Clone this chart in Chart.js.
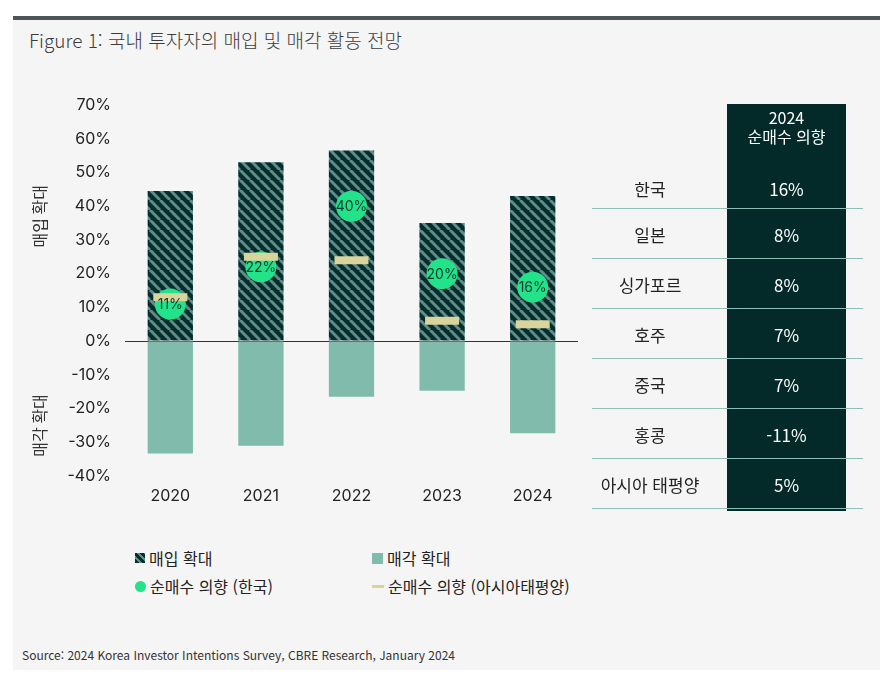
<!DOCTYPE html>
<html lang="ko">
<head>
<meta charset="utf-8">
<script src="https://cdn.jsdelivr.net/npm/chart.js@4"></script>
<style>
  body { margin: 0; background: #fff; font-family: "Noto Sans CJK KR", "Noto Sans", sans-serif; }
  .panel { position: absolute; left: 13px; top: 20px; width: 867px; height: 650px; background: #f5f5f5; }
  .topbar { position: absolute; left: 13px; top: 16px; width: 867px; height: 4px; background: #4a5657; }
  .title { position: absolute; left: 29px; top: 26px; font-size: 19px; color: #3c3c3c; font-weight: 300; }
  .chart-box { position: absolute; left: 20px; top: 80px; }
  .legend { position: absolute; left: 135px; top: 546px; font-size: 16px; color: #222; }
  .legend .item { position: absolute; white-space: nowrap; display: flex; align-items: center; height: 24px; }
  .legend .sw { display: inline-block; margin-right: 4px; }
  .table-col { position: absolute; left: 727px; top: 104px; width: 119px; height: 407px; background: #032a29; }
  .tbl { position: absolute; left: 592px; top: 104px; width: 271px; }
  .row { position: relative; border-bottom: 1px solid #8dbfb4; }
  .row .lab { position: absolute; left: 0; width: 116px; text-align: center; color: #222; font-size: 17px; }
  .row .val { position: absolute; left: 135px; width: 119px; text-align: center; color: #fff; font-size: 17px; }
  .head { height: 64px; position: relative; }
  .head .val { position: absolute; left: 135px; width: 119px; text-align: center; color: #fff; font-size: 16px; line-height: 19px; top: 4px; }
  .source { position: absolute; left: 22px; top: 646px; font-size: 12px; color: #333; }
</style>
</head>
<body>
<div class="topbar"></div>
<div class="panel"></div>
<div class="title">Figure 1: 국내 투자자의 매입 및 매각 활동 전망</div>
<div class="chart-box"><canvas id="myChart" width="583" height="430"></canvas></div>
<div class="legend" id="legend"></div>
<div class="table-col"></div>
<div class="tbl" id="tbl"></div>
<div class="source">Source: 2024 Korea Investor Intentions Survey, CBRE Research, January 2024</div>

<script>
// 데이터
const years = ['2020', '2021', '2022', '2023', '2024'];
const buyMore = [44.5, 53, 56.5, 35, 43];
const sellMore = [-33.3, -31, -16.5, -14.7, -27.3];
const netKorea = [11, 22, 40, 20, 16];
const netApac = [13, 25, 24, 6, 5];

const markets = ['한국', '일본', '싱가포르', '호주', '중국', '홍콩', '아시아 태평양'];
const net2024 = [16, 8, 8, 7, 7, -11, 5];

const yTicks = [-40, -30, -20, -10, 0, 10, 20, 30, 40, 50, 60, 70];

const colors = {
  hatchDark: '#052d2c',
  hatchLight: '#5f8d89',
  sell: '#80bbab',
  korea: '#22e28a',
  apac: '#d9d49c'
};

// 사선 패턴
function makeHatch(size) {
  const c = document.createElement('canvas');
  c.width = size; c.height = size;
  const g = c.getContext('2d');
  g.fillStyle = colors.hatchDark;
  g.fillRect(0, 0, size, size);
  g.strokeStyle = colors.hatchLight;
  g.lineWidth = 3;
  for (let k = -1; k <= 1; k++) {
    g.beginPath();
    g.moveTo(k * size, 0);
    g.lineTo(k * size + size, size);
    g.stroke();
  }
  return g.createPattern(c, 'repeat');
}
const hatch = makeHatch(10);

// 레전드
const legendItems = [
  { label: '매입 확대', x: 0, y: 0, sw: 'hatch' },
  { label: '매각 확대', x: 237, y: 0, sw: 'sell' },
  { label: '순매수 의향 (한국)', x: 0, y: 28, sw: 'dot' },
  { label: '순매수 의향 (아시아태평양)', x: 237, y: 28, sw: 'dash' }
];
const legendEl = document.getElementById('legend');
legendItems.forEach(it => {
  const div = document.createElement('div');
  div.className = 'item';
  div.style.left = it.x + 'px';
  div.style.top = it.y + 'px';
  let sw = '';
  if (it.sw === 'hatch') sw = '<span class="sw" style="width:10px;height:10px;background:repeating-linear-gradient(45deg,#052d2c 0 3px,#5f8d89 3px 5px)"></span>';
  if (it.sw === 'sell') sw = '<span class="sw" style="width:11px;height:11px;background:' + colors.sell + '"></span>';
  if (it.sw === 'dot') sw = '<span class="sw" style="width:11px;height:11px;border-radius:50%;background:' + colors.korea + '"></span>';
  if (it.sw === 'dash') sw = '<span class="sw" style="width:12px;height:3px;background:' + colors.apac + '"></span>';
  div.innerHTML = sw + '<span>' + it.label + '</span>';
  legendEl.appendChild(div);
});

// 표
const tbl = document.getElementById('tbl');
tbl.innerHTML = '<div class="head"><div class="val">2024<br>순매수 의향</div></div>';
markets.forEach((m, i) => {
  const h = i === 0 ? 40 : 49;
  const row = document.createElement('div');
  row.className = 'row';
  row.style.height = h + 'px';
  const top = (h - 24) / 2;
  row.innerHTML = `<div class="lab" style="top:${top}px">${m}</div><div class="val" style="top:${top}px">${net2024[i]}%</div>`;
  tbl.appendChild(row);
});

// 원 안의 라벨 + 축 제목
const extras = {
  id: 'extras',
  afterDatasetsDraw(chart) {
    const ctx = chart.ctx;
    const meta = chart.getDatasetMeta(2);
    ctx.save();
    ctx.font = '14px Inter, "Noto Sans", sans-serif';
    ctx.fillStyle = '#0c3a2b';
    ctx.textAlign = 'center';
    ctx.textBaseline = 'middle';
    meta.data.forEach((pt, i) => {
      ctx.fillText(netKorea[i] + '%', pt.x, pt.y + 1);
    });
    const ys = chart.scales.y;
    ctx.font = '16px "Noto Sans CJK KR", "Noto Sans", sans-serif';
    ctx.fillStyle = '#333';
    [['매입 확대', 37], ['매각 확대', -25]].forEach(([t, v]) => {
      ctx.save();
      ctx.translate(20, ys.getPixelForValue(v));
      ctx.rotate(-Math.PI / 2);
      ctx.fillText(t, 0, 0);
      ctx.restore();
    });
    ctx.restore();
  }
};

const ctx = document.getElementById('myChart');
new Chart(ctx, {
  data: {
    labels: years,
    datasets: [
      { type: 'bar', label: '매입 확대', data: buyMore, backgroundColor: hatch, grouped: false, barPercentage: 0.5, categoryPercentage: 1, order: 3 },
      { type: 'bar', label: '매각 확대', data: sellMore, backgroundColor: colors.sell, grouped: false, barPercentage: 0.5, categoryPercentage: 1, order: 3 },
      { type: 'line', label: '순매수 의향 (한국)', data: netKorea, showLine: false, pointRadius: 15.5, pointHoverRadius: 15.5, pointBackgroundColor: colors.korea, pointBorderWidth: 0, order: 2 },
      { type: 'line', label: '순매수 의향 (아시아태평양)', data: netApac, showLine: false, pointStyle: 'line', pointRadius: 17, pointHoverRadius: 17, pointBorderColor: colors.apac, pointBorderWidth: 8, order: 1 }
    ]
  },
  options: {
    responsive: false,
    animation: false,
    devicePixelRatio: 1,
    layout: { padding: { top: 4, right: 12, left: 0, bottom: 0 } },
    plugins: { legend: { display: false }, tooltip: { enabled: false } },
    scales: {
      x: {
        grid: { display: false, drawTicks: false },
        border: { display: false },
        ticks: { color: '#222', font: { size: 16, family: 'Inter, "Noto Sans", sans-serif' }, padding: 11 },
        afterFit(scale) { scale.height = 34; }
      },
      y: {
        min: -40, max: 70,
        afterBuildTicks(scale) { scale.ticks = yTicks.map(v => ({ value: v })); },
        grid: {
          drawTicks: false,
          color: c => c.tick.value === 0 ? '#333' : 'transparent',
          lineWidth: 1
        },
        border: { display: false },
        ticks: { color: '#222', font: { size: 16, family: 'Inter, "Noto Sans", sans-serif' }, padding: 14, callback: v => v + '%' },
        afterFit(scale) { scale.width = 105; }
      }
    }
  },
  plugins: [extras]
});
</script>
</body>
</html>
